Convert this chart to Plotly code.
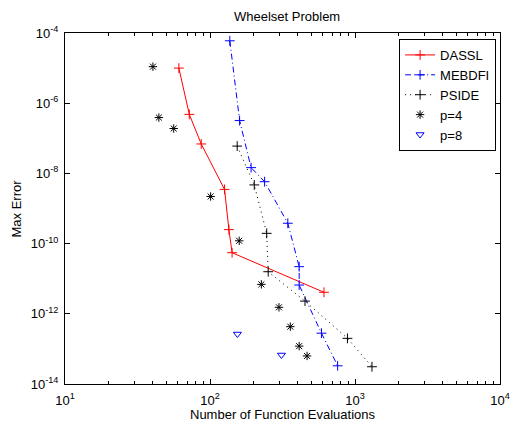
import plotly.graph_objects as go

# ---- data ----
dassl_x = [61, 72, 87, 126, 135, 142, 611]
dassl_y = [1.0e-5, 4.8e-7, 6.9e-8, 3.5e-9, 2.5e-10, 5.5e-11, 4.1e-12]

mebdfi_x = [137, 160, 192, 238, 344, 412, 412, 587, 759]
mebdfi_y = [6.0e-5, 3.2e-7, 1.46e-8, 5.8e-9, 3.8e-10, 2.2e-11, 6.6e-12, 2.8e-13, 3.3e-14]

pside_x = [154, 202, 246, 252, 452, 887, 1309]
pside_y = [6.0e-8, 4.7e-9, 1.96e-10, 1.58e-11, 2.3e-12, 2.0e-13, 3.1e-14]

p4_x = [40.4, 44.4, 56.2, 101, 159, 226, 299, 358, 412, 467]
p4_y = [1.1e-5, 3.9e-7, 1.9e-7, 2.2e-9, 1.2e-10, 6.9e-12, 1.53e-12, 4.3e-13, 1.2e-13, 6.3e-14]

p8_x = [154.5, 311]
p8_y = [2.65e-13, 6.7e-14]

x_tickvals = [10, 100, 1000, 10000]
x_ticktext = ["10<sup>1</sup>", "10<sup>2</sup>", "10<sup>3</sup>", "10<sup>4</sup>"]
y_tickvals = [1e-14, 1e-12, 1e-10, 1e-8, 1e-6, 1e-4]
y_ticktext = ["10<sup>-14</sup>", "10<sup>-12</sup>", "10<sup>-10</sup>",
              "10<sup>-8</sup>", "10<sup>-6</sup>", "10<sup>-4</sup>"]
x_minor = [m * 10 ** e for e in (1, 2, 3) for m in range(2, 10)]

FONT = "Liberation Sans, Arial, Helvetica, sans-serif"

fig = go.Figure()
fig.add_trace(go.Scatter(
    x=dassl_x, y=dassl_y, name="DASSL", mode="lines+markers",
    line=dict(color="#ff0000", width=1),
    marker=dict(symbol="cross-thin-open", size=7, color="#ff0000",
                line=dict(color="#ff0000", width=1))))
fig.add_trace(go.Scatter(
    x=mebdfi_x, y=mebdfi_y, name="MEBDFI", mode="lines+markers",
    line=dict(color="#0000ff", width=1, dash="6px,3px,1px,3px"),
    marker=dict(symbol="cross-thin-open", size=7, color="#0000ff",
                line=dict(color="#0000ff", width=1))))
fig.add_trace(go.Scatter(
    x=pside_x, y=pside_y, name="PSIDE", mode="lines+markers",
    line=dict(color="#000000", width=1, dash="1px,4px"),
    marker=dict(symbol="cross-thin-open", size=7, color="#000000",
                line=dict(color="#000000", width=1))))
fig.add_trace(go.Scatter(
    x=p4_x, y=p4_y, name="p=4", mode="markers",
    marker=dict(symbol="asterisk-open", size=7, color="#000000",
                line=dict(color="#000000", width=1))))
fig.add_trace(go.Scatter(
    x=p8_x, y=p8_y, name="p=8", mode="markers",
    marker=dict(symbol="triangle-down-open", size=7, color="#0000ff",
                line=dict(color="#0000ff", width=1))))

axis_common = dict(
    showgrid=False, zeroline=False, showline=True, linecolor="black",
    linewidth=1, mirror="ticks", ticks="inside", tickcolor="black",
    tickwidth=1, ticklen=5, tickfont=dict(family=FONT, size=13, color="black"),
)

fig.update_xaxes(type="log", range=[1, 4], tickvals=x_tickvals, ticktext=x_ticktext,
                 minor=dict(ticks="inside", ticklen=3, tickcolor="black", tickwidth=1,
                            tickvals=x_minor, showgrid=False),
                 ticklabelstandoff=4, **axis_common)
fig.update_yaxes(type="log", range=[-14, -4], tickvals=y_tickvals, ticktext=y_ticktext,
                 ticklabelstandoff=3, **axis_common)

fig.update_layout(
    width=522, height=424,
    margin=dict(l=65, r=13, t=33, b=40),
    paper_bgcolor="white", plot_bgcolor="white",
    font=dict(family=FONT, size=13, color="black"),
    title=dict(text="Wheelset Problem", x=0.55, xanchor="center",
               y=1 - 16 / 424, yanchor="middle", yref="container",
               font=dict(family=FONT, size=13, color="black")),
    showlegend=True,
    legend=dict(x=0.991, xanchor="right", y=0.983, yanchor="top",
                bgcolor="white", bordercolor="black", borderwidth=1,
                font=dict(family=FONT, size=13, color="black")),
    annotations=[
        dict(text="Number of Function Evaluations", xref="paper", yref="paper",
             x=0.5, y=0, yshift=-30, xanchor="center", yanchor="middle",
             showarrow=False, font=dict(family=FONT, size=13, color="black")),
        dict(text="Max Error", xref="paper", yref="paper", x=0, y=0.5,
             xshift=-49, xanchor="center", yanchor="middle", textangle=-90,
             showarrow=False, font=dict(family=FONT, size=13, color="black")),
    ],
)

fig.write_html("out.html")
